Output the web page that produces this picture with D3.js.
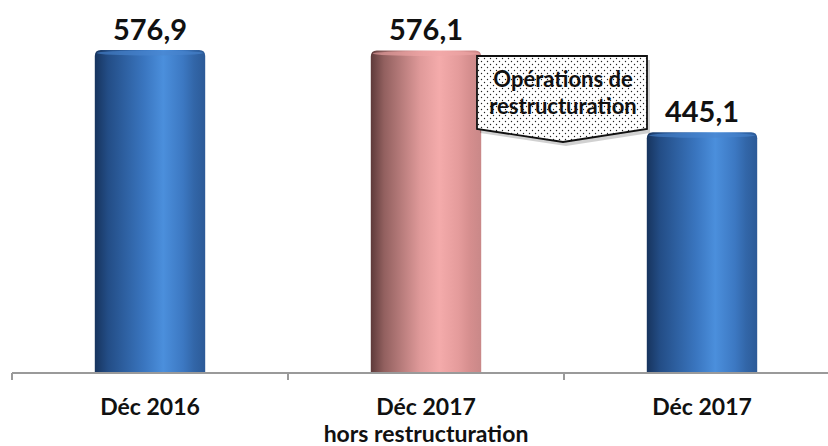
<!DOCTYPE html>
<html><head><meta charset="utf-8">
<script src="https://cdn.jsdelivr.net/npm/d3@7"></script>
<style>body{margin:0;background:#fff}svg{display:block}</style>
</head><body>
<svg id="c" width="828" height="446"></svg>
<script>
const categories = ["Déc 2016", "Déc 2017|hors restructuration", "Déc 2017"];
const values = [576.9, 576.1, 445.1];
const valueLabels = ["576,9", "576,1", "445,1"];
const barKinds = ["blue", "pink", "blue"];
const calloutLines = ["Opérations de", "restructuration"];

const svg = d3.select("#c");
const x = d3.scaleBand().domain(categories).range([12, 840]).paddingInner(0.6).paddingOuter(0.3);
const y = d3.scaleLinear().domain([60, 600]).range([373, 35.55]);

const defs = svg.append("defs");
function grad(id, stops){
  const g = defs.append("linearGradient").attr("id", id).attr("x1","0").attr("x2","1").attr("y1","0").attr("y2","0");
  stops.forEach(s=>g.append("stop").attr("offset", s[0]).attr("stop-color", s[1]));
}
grad("gblue", [[0,"#17345e"],[0.12,"#234d86"],[0.45,"#3a76c0"],[0.62,"#4b8fdc"],[0.8,"#3c78c2"],[0.9,"#3266a8"],[1,"#2c5a97"]]);
grad("gpink", [[0,"#5e3a3a"],[0.12,"#92605f"],[0.45,"#e09a9a"],[0.62,"#f4abab"],[0.8,"#e49b9b"],[0.9,"#d58e8e"],[1,"#c98888"]]);
const pat = defs.append("pattern").attr("id","dots").attr("width",6).attr("height",6).attr("patternUnits","userSpaceOnUse");
pat.append("rect").attr("width",6).attr("height",6).attr("fill","#fff");
pat.append("circle").attr("cx",1.5).attr("cy",1.5).attr("r",0.7).attr("fill","#222");
pat.append("circle").attr("cx",4.5).attr("cy",4.5).attr("r",0.7).attr("fill","#222");

// bars
const bw = x.bandwidth();
categories.forEach((c,i)=>{
  const x0 = x(c), y0 = y(values[i]), yb = y.range()[0];
  const r = 6;
  const p = `M${x0},${yb} L${x0},${y0+r} Q${x0},${y0} ${x0+r},${y0} L${x0+bw-r},${y0} Q${x0+bw},${y0} ${x0+bw},${y0+r} L${x0+bw},${yb} Z`;
  svg.append("path").attr("d", p).attr("fill", `url(#g${barKinds[i]})`);
  svg.append("ellipse").attr("cx", x0+bw/2).attr("cy", y0+3).attr("rx", bw/2-2).attr("ry", 2.5)
    .attr("fill", barKinds[i]==="blue" ? "#4a86cf" : "#f0a7a7").attr("opacity",0.6);
  svg.append("text").attr("x", x0+bw/2).attr("y", y0-10).attr("text-anchor","middle")
    .attr("font-family","Lato").attr("font-weight","bold").attr("font-size",29).attr("fill","#111")
    .text(valueLabels[i]);
});

// axis
const ax = svg.append("g").attr("transform","translate(0,373)");
ax.append("line").attr("x1",12).attr("x2",828).attr("stroke","#9a9a9a").attr("stroke-width",2);
const ticks = categories.map(c=>x(c)-x.step()*x.paddingInner()/2);
ticks.concat([ticks[ticks.length-1]+x.step()]).forEach(t=>{
  ax.append("line").attr("x1",t).attr("x2",t).attr("y1",0).attr("y2",7).attr("stroke","#9a9a9a").attr("stroke-width",2);
});
categories.forEach(c=>{
  c.split("|").forEach((ln,j)=>{
    svg.append("text").attr("x", x(c)+bw/2).attr("y", 415+j*27).attr("text-anchor","middle")
      .attr("font-family","Lato").attr("font-weight","bold").attr("font-size",23).attr("fill","#111").text(ln);
  });
});

// callout
const cx0 = 477, cx1 = 647, cy0 = 56, cyb = 129, tipX = 563, tipY = 142;
const cp = `M${cx0},${cy0} L${cx1},${cy0} L${cx1},${cyb} L${tipX},${tipY} L${cx0},${cyb} Z`;
svg.append("path").attr("d", cp).attr("transform","translate(3,4)").attr("fill","#000").attr("opacity",0.18);
svg.append("path").attr("d", cp).attr("fill","url(#dots)").attr("stroke","#111").attr("stroke-width",1.8);
calloutLines.forEach((ln,j)=>{
  svg.append("text").attr("x", tipX).attr("y", 87+j*27).attr("text-anchor","middle")
    .attr("font-family","Lato").attr("font-weight","bold").attr("font-size",22).attr("fill","#111").text(ln);
});
</script>
</body></html>
